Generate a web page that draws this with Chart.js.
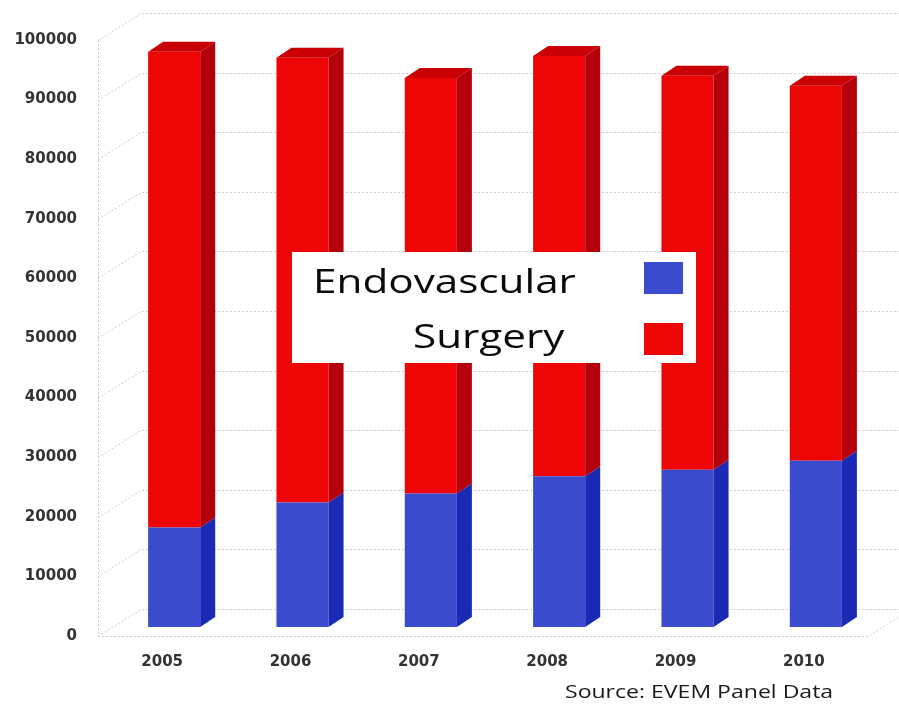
<!DOCTYPE html>
<html>
<head>
<meta charset="utf-8">
<script src="https://cdn.jsdelivr.net/npm/chart.js@4.4.1/dist/chart.umd.min.js"></script>
<style>
  html, body { margin: 0; padding: 0; background: #fff; }
  #chart { display: block; }
</style>
</head>
<body>
<canvas id="chart" width="899" height="708"></canvas>
<script>
const years = ['2005', '2006', '2007', '2008', '2009', '2010'];
const endovascular = [16700, 20900, 22400, 25300, 26400, 27900];
const surgery = [79800, 74600, 69700, 70500, 66100, 62900];
const yMax = 100000;
const yStep = 10000;

// fake 3D: back wall offset, bar offset from the front plane, bar depth
const wall = { dx: 43, dy: -27 };
const barShift = { dx: 12, dy: -9 };
const depth = { dx: 15, dy: -10 };
const stretch = 1.28;

const poly = (ctx, pts, fill) => {
    ctx.beginPath();
    ctx.moveTo(pts[0][0], pts[0][1]);
    pts.slice(1).forEach(p => ctx.lineTo(p[0], p[1]));
    ctx.closePath();
    ctx.fillStyle = fill;
    ctx.fill();
};

const wallGrid = {
    id: 'wallGrid',
    beforeDatasetsDraw(chart) {
        const { ctx, chartArea: a, scales: { y } } = chart;
        ctx.save();
        ctx.strokeStyle = '#cbcbcb';
        ctx.lineWidth = 1;
        ctx.setLineDash([2, 2]);
        ctx.beginPath();
        y.ticks.forEach(t => {
            const py = Math.round(y.getPixelForValue(t.value)) + 0.5;
            ctx.moveTo(a.left, py);
            ctx.lineTo(a.left + wall.dx, py + wall.dy);
            ctx.lineTo(chart.width, py + wall.dy);
        });
        ctx.moveTo(a.left + 0.5, a.top);
        ctx.lineTo(a.left + 0.5, a.bottom);
        ctx.moveTo(a.left, a.bottom + 0.5);
        ctx.lineTo(a.right, a.bottom + 0.5);
        ctx.lineTo(a.right + wall.dx, a.bottom + wall.dy);
        ctx.stroke();
        ctx.restore();
    }
};

const bars3d = {
    id: 'bars3d',
    beforeDatasetsDraw(chart) {
        chart.ctx.save();
        chart.ctx.translate(barShift.dx, barShift.dy);
    },
    afterDatasetsDraw(chart) {
        const ctx = chart.ctx;
        const last = chart.data.datasets.length - 1;
        chart.data.datasets.forEach((ds, i) => {
            chart.getDatasetMeta(i).data.forEach(bar => {
                const { x, y, base, width } = bar.getProps(['x', 'y', 'base', 'width'], true);
                const l = x - width / 2, r = x + width / 2;
                poly(ctx, [[r, y], [r + depth.dx, y + depth.dy], [r + depth.dx, base + depth.dy], [r, base]], ds.sideColor);
                if (i === last) {
                    poly(ctx, [[l, y], [l + depth.dx, y + depth.dy], [r + depth.dx, y + depth.dy], [r, y]], ds.topColor);
                }
            });
        });
        ctx.restore();
    }
};

// boxed legend in the middle of the plot, plus the source note
const boxLegend = {
    id: 'boxLegend',
    afterDraw(chart) {
        const ctx = chart.ctx;
        const rows = [
            { textX: 313, baseline: 293, swatchY: 262 },
            { textX: 413, baseline: 348, swatchY: 323 }
        ];
        ctx.save();
        ctx.fillStyle = '#fff';
        ctx.fillRect(292, 252, 404, 111);
        ctx.font = '33px "Open Sans"';
        ctx.textBaseline = 'alphabetic';
        chart.data.datasets.forEach((ds, i) => {
            const row = rows[i];
            ctx.save();
            ctx.translate(row.textX, row.baseline);
            ctx.scale(stretch, 1);
            ctx.fillStyle = '#0a0a0a';
            ctx.fillText(ds.label, 0, 0);
            ctx.restore();
            ctx.fillStyle = ds.backgroundColor;
            ctx.fillRect(644, row.swatchY, 39, 32);
        });

        ctx.font = '18px "Open Sans"';
        ctx.fillStyle = '#1a1a1a';
        ctx.translate(565, 698);
        ctx.scale(stretch, 1);
        ctx.fillText('Source: EVEM Panel Data', 0, 0);
        ctx.restore();
    }
};

const tickFont = { family: 'DejaVu Sans', size: 15, weight: 'bold' };

new Chart(document.getElementById('chart').getContext('2d'), {
    type: 'bar',
    data: {
        labels: years,
        datasets: [{
            label: 'Endovascular',
            data: endovascular,
            backgroundColor: '#3a4bcd',
            sideColor: '#1a2ab4',
            topColor: '#2c40c6'
        }, {
            label: 'Surgery',
            data: surgery,
            backgroundColor: '#ee0606',
            sideColor: '#b3000b',
            topColor: '#c90004'
        }]
    },
    options: {
        responsive: false,
        animation: false,
        borderWidth: 0,
        barPercentage: 0.406,
        categoryPercentage: 1,
        clip: false,
        layout: { padding: { top: 40, right: 31, bottom: 32, left: 0 } },
        scales: {
            x: {
                stacked: true,
                grid: { display: false },
                border: { display: false },
                ticks: { font: tickFont, color: '#333', padding: 9 },
                afterFit: scale => { scale.height = 40; }
            },
            y: {
                stacked: true,
                min: 0,
                max: yMax,
                grid: { display: false, drawTicks: false },
                border: { display: false },
                ticks: {
                    stepSize: yStep,
                    font: tickFont,
                    color: '#333',
                    padding: 21,
                    callback: v => String(v)
                },
                afterFit: scale => { scale.width = 98; }
            }
        },
        plugins: {
            legend: { display: false },
            tooltip: { enabled: false }
        }
    },
    plugins: [wallGrid, bars3d, boxLegend]
});
</script>
</body>
</html>
